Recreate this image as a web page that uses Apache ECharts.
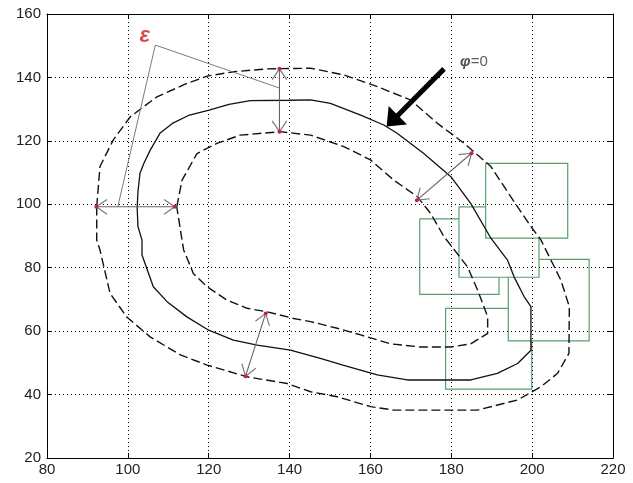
<!DOCTYPE html>
<html>
<head>
<meta charset="utf-8">
<script src="https://cdn.jsdelivr.net/npm/echarts@6/dist/echarts.min.js"></script>
<style>
html,body{margin:0;padding:0;background:#fff;}
#c{width:633px;height:483px;}
</style>
</head>
<body>
<div id="c"></div>
<script>
// ---- data ----
const xTicks = [80, 100, 120, 140, 160, 180, 200, 220];
const yTicks = [20, 40, 60, 80, 100, 120, 140, 160];

const solidCurve = [
  [102.3,99],[102.5,104],[103,109.8],[104,113],[105.5,117],[108,122.5],[111,125.5],[115,128],
  [120.1,129.7],[125,131.5],[130.3,132.7],[140,132.8],[145.2,132.9],[150.1,131.8],[157.6,128.1],
  [163.3,125],[166.6,122.4],[173.2,116],[179.9,108.7],[184.8,100.3],[189.8,89.3],[193.9,82.4],
  [195.5,77.2],[198,70.9],[199.7,67.7],[199.7,54],[196.4,49.8],[191.4,46.7],[184.8,44.6],
  [169.1,44.6],[161.7,46.2],[153.2,49.3],[147.6,51.4],[140.2,54],[132,55.6],[126.1,57.2],
  [120,60.3],[114.6,64.5],[109.7,69.3],[106.3,74],[103.5,84],[103.5,88.7],[102.5,93],[102.3,99]
];

const outerDashed = [
  [92.3,99.2],[93.1,111.9],[96.4,120.3],[100.6,127.6],[107.2,133.9],[114.6,138.1],[119.6,140.4],
  [126.2,141.8],[134.4,142.7],[145.2,142.9],[153.4,140.8],[161.7,137.1],[169.9,132.9],[176.6,125.5],
  [183.2,119.2],[189.8,111.9],[194.7,102.4],[199.7,93],[202.2,88.7],[207.1,76.1],[209.2,67.7],
  [209.1,53],[206.3,46.7],[202.2,42.5],[196.4,38.3],[186.5,35.1],[165.8,35.1],[160,36.2],
  [151.8,39.3],[145.2,40.9],[139.4,43.5],[129.5,45.6],[119.6,49.3],[113,52.5],[105.5,58.2],
  [99.7,64.5],[95.6,71.9],[93.1,85.6],[92.3,88.7],[92.3,99.2]
];

const innerDashed = [
  [112.1,99.2],[113.4,107.6],[117.1,116],[122,119.2],[127.8,121.8],[137.7,122.9],[145.2,121.8],
  [153.4,118.2],[160,114],[165.8,107.6],[171.6,102.4],[174.9,97.1],[178.2,89.8],[184,80.3],
  [186.5,73],[189,64.5],[189,59.3],[184.8,56],[179.9,55],[172.4,55],[165,56],[157.6,58.8],
  [151.8,60.9],[145.2,63],[141,64],[134.4,66.1],[129.5,67.2],[124.5,69.8],[119.6,74],
  [116.2,78.2],[113.8,85.6],[113.4,88.7],[112.1,99.2]
];

// rectangles [x1, y1, x2, y2], drawn back to front
const rects = [
  [178.6,67.2,199.9,41.7],
  [194.1,82.6,214.1,56.9],
  [172.2,95.4,191.8,71.6],
  [181.9,99.2,201.7,77.0],
  [188.5,112.9,208.8,89.3]
];

// double arrows [x1, y1, x2, y2]
const doubleArrows = [
  [92.2,99.2,111.6,99.2],
  [137.5,142.7,137.5,122.9],
  [171.5,101.3,185.0,116.1],
  [129.1,45.8,134.1,65.6]
];

// epsilon leader lines
const epsLeader = [[97.5,99.2],[106.8,150.2],[137.6,136.6]];
const epsLabelPos = [[104.2,153.1]];
const phiLabelPos = [[185.6,144.9]];

// thick black arrow [x_start, y_start, x_tip, y_tip]
const bigArrow = [[178.2,142.7,164.0,124.5]];

// ---- chart ----
const chart = echarts.init(document.getElementById('c'), null, {renderer:'canvas'});
const FONT = '"Liberation Sans", Arial, sans-serif';

function renderRect(params, api) {
  const a = api.coord([api.value(0), api.value(1)]);
  const b = api.coord([api.value(2), api.value(3)]);
  return {
    type: 'rect',
    shape: {x: Math.min(a[0],b[0]), y: Math.min(a[1],b[1]), width: Math.abs(b[0]-a[0]), height: Math.abs(b[1]-a[1])},
    style: {fill: '#ffffff', stroke: '#5a9e6e', lineWidth: 1.2}
  };
}

function renderDoubleArrow(params, api) {
  const p1 = api.coord([api.value(0), api.value(1)]);
  const p2 = api.coord([api.value(2), api.value(3)]);
  const children = [{
    type: 'line',
    shape: {x1:p1[0], y1:p1[1], x2:p2[0], y2:p2[1]},
    style: {stroke:'#6e5a72', lineWidth:1.1}
  }];
  const ends = [[p1,p2],[p2,p1]];
  for (const [tip, from] of ends) {
    const ang = Math.atan2(from[1]-tip[1], from[0]-tip[0]);
    const L = 13, a = 0.6;
    for (const s of [-1, 1]) {
      children.push({
        type: 'line',
        shape: {x1:tip[0], y1:tip[1], x2:tip[0]+L*Math.cos(ang+s*a), y2:tip[1]+L*Math.sin(ang+s*a)},
        style: {stroke:'#7a7a7a', lineWidth:1.2}
      });
    }
    children.push({type:'circle', shape:{cx:tip[0], cy:tip[1], r:2}, style:{fill:'#c8203a'}});
  }
  return {type:'group', children};
}

function renderBigArrow(params, api) {
  const s = api.coord([api.value(0), api.value(1)]);
  const t = api.coord([api.value(2), api.value(3)]);
  const dx = t[0]-s[0], dy = t[1]-s[1];
  const len = Math.sqrt(dx*dx+dy*dy);
  const ux = dx/len, uy = dy/len;
  const headLen = 16, halfW = 13;
  const bx = t[0]-ux*headLen, by = t[1]-uy*headLen;
  return {
    type: 'group',
    children: [
      {type:'line', shape:{x1:s[0], y1:s[1], x2:bx+ux*2, y2:by+uy*2}, style:{stroke:'#000', lineWidth:5}},
      {type:'polygon', shape:{points:[[t[0],t[1]],[bx-uy*halfW, by+ux*halfW],[bx+uy*halfW, by-ux*halfW]]}, style:{fill:'#000'}}
    ]
  };
}

const axisCommon = {
  type: 'value',
  interval: 20,
  z: 3,
  axisLine: {show:true, onZero:false, lineStyle:{color:'#000', width:1}},
  axisTick: {show:true, inside:true, length:5, lineStyle:{color:'#000'}},
};

const option = {
  animation: false,
  backgroundColor: '#ffffff',
  grid: {left:47, right:20, top:14, bottom:25, containLabel:false},
  xAxis: [
    Object.assign({}, axisCommon, {
      min: xTicks[0], max: xTicks[xTicks.length-1], position:'bottom',
      axisLabel: {show:true, margin:4, color:'#222', fontSize:15, fontFamily:FONT},
      splitLine: {show:true, lineStyle:{color:'#000', type:[1,3], width:1}}
    }),
    Object.assign({}, axisCommon, {
      min: xTicks[0], max: xTicks[xTicks.length-1], position:'top',
      axisLabel: {show:false}, splitLine:{show:false}
    })
  ],
  yAxis: [
    Object.assign({}, axisCommon, {
      min: yTicks[0], max: yTicks[yTicks.length-1], position:'left',
      axisLabel: {show:true, margin:6, color:'#222', fontSize:15, fontFamily:FONT},
      splitLine: {show:true, lineStyle:{color:'#000', type:[1,3], width:1}}
    }),
    Object.assign({}, axisCommon, {
      min: yTicks[0], max: yTicks[yTicks.length-1], position:'right',
      axisLabel: {show:false}, splitLine:{show:false}
    })
  ],
  series: [
    {type:'custom', z:1, renderItem: renderRect, data: rects, clip:false},
    {type:'line', z:5, data: solidCurve, showSymbol:false, smooth:false,
      lineStyle:{color:'#111', width:1.3}},
    {type:'line', z:5, data: outerDashed, showSymbol:false,
      lineStyle:{color:'#111', width:1.4, type:[9,4]}},
    {type:'line', z:5, data: innerDashed, showSymbol:false,
      lineStyle:{color:'#111', width:1.4, type:[9,4]}},
    {type:'line', z:6, data: epsLeader, showSymbol:false,
      lineStyle:{color:'#7a7a7a', width:1}},
    {type:'custom', z:7, renderItem: renderDoubleArrow, data: doubleArrows},
    {type:'custom', z:7, renderItem: renderBigArrow, data: bigArrow},
    {type:'scatter', z:8, data: epsLabelPos, symbolSize:0,
      label:{show:true, position:'inside', formatter:'ε', color:'#cc1f1f', fontSize:22,
        fontWeight:'bold', fontStyle:'italic', fontFamily:FONT}},
    {type:'scatter', z:8, data: phiLabelPos, symbolSize:0,
      label:{show:true, position:'inside', formatter:'{a|φ}{b|=0}',
        rich:{
          a:{fontSize:15, fontWeight:'bold', fontStyle:'italic', color:'#222', fontFamily:FONT},
          b:{fontSize:15, color:'#333', fontFamily:FONT}
        }}}
  ]
};
chart.setOption(option);
</script>
</body>
</html>
